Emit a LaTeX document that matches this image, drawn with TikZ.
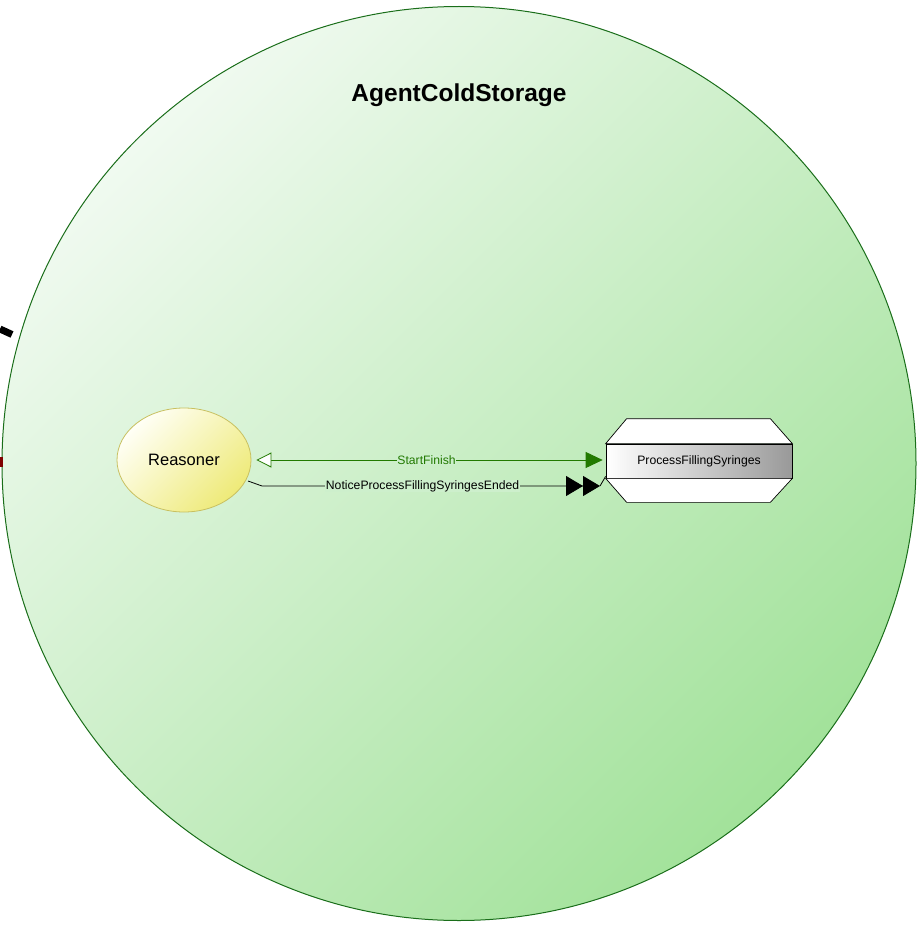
\documentclass[tikz,border=0pt]{standalone}
\usepackage{fontspec}
\setmainfont{Liberation Sans}
\usetikzlibrary{shapes.geometric,arrows.meta}
\definecolor{circline}{HTML}{1A6E1A}
\definecolor{circlight}{HTML}{F0FAF0}
\definecolor{circdark}{HTML}{A2E29A}
\definecolor{ylight}{HTML}{FFFFF6}
\definecolor{ydark}{HTML}{EEEA78}
\definecolor{yline}{HTML}{C8C060}
\definecolor{sfgreen}{HTML}{227A00}
\definecolor{labbg}{HTML}{CDEFCC}
\definecolor{darkred}{HTML}{800000}
\tikzset{
  agent/.style={draw=circline, line width=1pt, top color=circlight, bottom color=circdark, shading angle=45},
  reasonerstyle/.style={ellipse, draw=yline, line width=0.8pt, top color=ylight, bottom color=ydark, shading angle=45, minimum width=134pt, minimum height=104pt, inner sep=0pt, font=\fontsize{16.5}{18}\selectfont},
  procmid/.style={draw=black, line width=0.7pt, left color=white, right color=black!40, minimum width=186pt, minimum height=34pt, inner sep=0pt, font=\fontsize{12.2}{14}\selectfont},
  band/.style={draw=black, line width=0.7pt, fill=white},
  lab/.style={fill=labbg, inner sep=0.5pt, font=\fontsize{12.2}{14}\selectfont},
}
\begin{document}
\begin{tikzpicture}[x=1pt,y=-1pt]
\useasboundingbox (0,0) rectangle (920,931);
% agent circle
\path[agent] (459,463.5) circle (457pt);
\node[font=\bfseries\fontsize{24.5}{28}\selectfont] (title) at (459,95.5) {AgentColdStorage};
% fragments of outside connectors
\draw[line width=7pt, black] (0,329) -- (12,334.5);
\fill[darkred] (0,457) rectangle (3,467);
% reasoner
\node[reasonerstyle] (reasoner) at (184,460) {Reasoner};
% process
\node[procmid] (pfs) at (699,461) {ProcessFillingSyringes};
\draw[band] (pfs.north west) -- ([xshift=21pt,yshift=25pt]pfs.north west) -- ([xshift=-22pt,yshift=25pt]pfs.north east) -- (pfs.north east) -- cycle;
\draw[band] (pfs.south west) -- ([xshift=21pt,yshift=-24pt]pfs.south west) -- ([xshift=-22pt,yshift=-24pt]pfs.south east) -- (pfs.south east) -- cycle;
% StartFinish
\draw[sfgreen, line width=0.8pt, shorten <=5pt, shorten >=3pt,
  {Triangle[open, fill=white, length=15pt, width=15pt]}-{Triangle[length=17pt, width=16pt]}]
  (reasoner.east) -- (pfs.west |- reasoner.east)
  node[lab, midway, text=sfgreen, xshift=-2pt] (sflab) {StartFinish};
% NoticeProcessFillingSyringesEnded
\coordinate (n1) at (262,486);
\coordinate (n2) at (600,486);
\coordinate (n0) at (248,481);
\draw[black, line width=0.8pt, -{Triangle[length=17pt, width=20pt] Triangle[length=17pt, width=20pt]}]
  (n0) -- (n1) -- (n2)
  node[lab, pos=0.475] (nlab) {NoticeProcessFillingSyringesEnded};
\draw[black, line width=0.8pt] (n2) -- ([yshift=2pt]pfs.south west);
\end{tikzpicture}
\end{document}
